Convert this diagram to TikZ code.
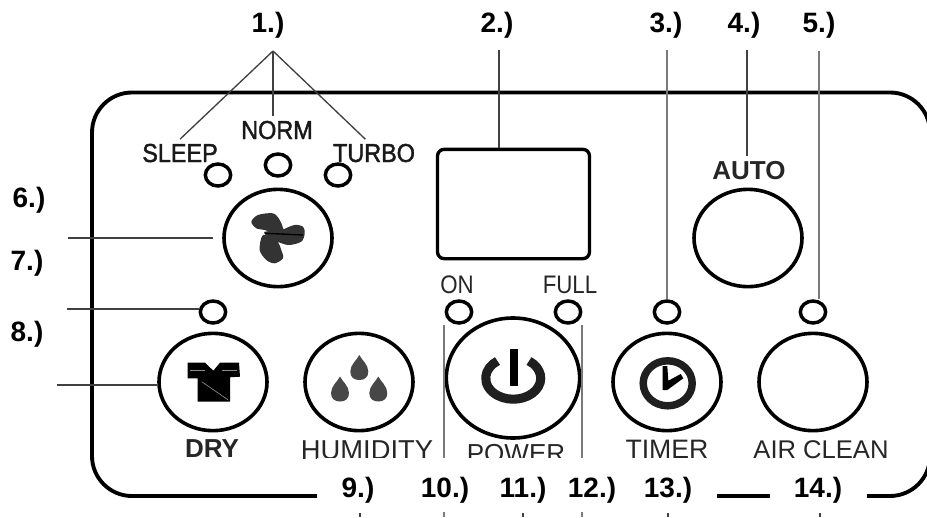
\documentclass[tikz,border=0pt]{standalone}
\usepackage{fontspec}
\setmainfont{Liberation Sans}
\newfontfamily\narrowfont[FakeStretch=0.88]{Liberation Sans}
\newfontfamily\heavyfont[FakeStretch=0.9,FakeBold=1.6]{Liberation Sans}
\usetikzlibrary{shapes}

\tikzset{
  numlabel/.style={anchor=base,inner sep=0.75pt,font=\fontsize{21}{24}\selectfont\bfseries},
  paneltext/.style={anchor=base,inner sep=3.3pt,text=black!85,font=\fontsize{19.5}{24}\selectfont},
  tagtext/.style={anchor=base,inner sep=3.3pt,text=black!85,font=\fontsize{19}{24}\narrowfont},
  heavytext/.style={anchor=base,inner sep=3.3pt,text=black!90,font=\fontsize{19.5}{24}\heavyfont},
  roundbtn/.style={draw,ellipse,line width=2.7pt,minimum width=81pt,minimum height=73pt,inner sep=0pt},
  ledlamp/.style={draw,ellipse,line width=2.6pt,minimum width=19pt,minimum height=16.5pt,inner sep=0pt},
  leader/.style={color=black!75,line width=1pt},
  leaderpale/.style={color=black!52,line width=1.5pt},
}

\begin{document}
\begin{tikzpicture}[x=0.75pt,y=0.75pt,yscale=-1,xscale=1]
\clip (0,0) rectangle (927,517);

%Shape: Panel outline
\draw [line width=2.9pt,rounded corners=30pt] (92,92.5) rectangle (930,496);

%Shape: Display
\node (screen) [draw,line width=2.5pt,rounded corners=5pt,minimum width=114pt,minimum height=82pt,inner sep=0pt] at (513.5,204) {};

%Shape: Buttons
\node (btnFan) [roundbtn] at (278,238) {};
\node (btnAuto) [roundbtn] at (748,238) {};
\node (btnDry) [roundbtn] at (213,382) {};
\node (btnHumid) [roundbtn] at (359,382) {};
\node (btnPower) [roundbtn,minimum width=100pt,minimum height=90pt] at (513,378) {};
\node (btnTimer) [roundbtn] at (667,382) {};
\node (btnClean) [roundbtn] at (813,382) {};

%Shape: Lamps
\node (ledSleep) [ledlamp] at (218,175) {};
\node (ledNorm) [ledlamp] at (278,165) {};
\node (ledTurbo) [ledlamp] at (338,175) {};
\node (ledDry) [ledlamp] at (213,312) {};
\node (ledOn) [ledlamp] at (459,312) {};
\node (ledFull) [ledlamp] at (568,312) {};
\node (ledTimer) [ledlamp] at (667,312) {};
\node (ledClean) [ledlamp] at (813,312) {};

%Shape: Fan
\fill [black!80] plot [smooth cycle] coordinates {(251.3,221.7) (258,215) (273,213.3) (279.7,220) (283,230) (275,233.3) (264.7,230) (256.3,228.3)};
\fill [black!80] plot [smooth cycle] coordinates {(283,230) (294.7,225) (303,226.7) (304.7,233.3) (301.3,241.7) (288,245) (276.3,240)};
\fill [black!80] plot [smooth cycle] coordinates {(263,235) (276.3,240) (281.3,250) (283,258.3) (274.7,263.3) (266.3,260) (259.7,250)};
\fill [black!80] (264,232) -- (283,228) -- (290,240) -- (270,244) -- cycle;
\draw [black,line width=1pt] (264.7,233.3) -- (303,235);

%Shape: Shirt
\fill [black] (187.7,362.7) -- (205,362.7) -- (213.3,370.7) -- (220,362.7) -- (239,362.7) -- (240,376.7) -- (230,377.3) -- (230,401.7) -- (197.7,401.7) -- (197.7,378.3) -- (187.7,378.3) -- cycle;
\draw [black!45,line width=0.5pt] (201.7,381.7) -- (228.3,400);
\draw [black!45,line width=0.5pt] (190,370) -- (205,370) (222,370) -- (237,370);

%Shape: Drops
\foreach \dx/\dy in {359.3/367.5,340/389,378.3/389}
{
  \fill [shift={(\dx,\dy)},black!72] (0,-12.5) .. controls (2,-8) and (9,-3) .. (9,4) .. controls (9,10) and (5,12.5) .. (0,12.5) .. controls (-5,12.5) and (-9,10) .. (-9,4) .. controls (-9,-3) and (-2,-8) .. (0,-12.5) -- cycle;
}

%Shape: Power sign
\draw [black!88,line width=6.8pt] (529,361) arc [start angle=-55,end angle=235,x radius=27.5,y radius=21];
\fill [black] (510,349.3) rectangle (518.3,386);

%Shape: Clock
\draw [black!88,line width=5.6pt] (667.7,383.3) circle [x radius=24.5,y radius=22.5];
\fill [black] (662.7,366) -- (667.3,366) -- (668.3,380.7) -- (680.7,374) -- (683.3,378.3) -- (667.3,390) -- (662.7,390) -- cycle;

% Text Node
\node (txtSleep) [heavytext] at (180,162) {SLEEP};
\node (txtNorm) [heavytext,font=\fontsize{19.5}{24}\heavyfont] at (277,139) {NORM};
\node (txtTurbo) [heavytext] at (374,162) {TURBO};
\node (txtOn) [tagtext] at (457,293) {ON};
\node (txtFull) [tagtext] at (570,293) {FULL};
\node (txtAuto) [paneltext,font=\fontsize{19.5}{24}\selectfont\bfseries] at (749,179) {AUTO};
\node (txtDry) [paneltext,font=\fontsize{19.5}{24}\selectfont\bfseries] at (212,457) {DRY};
\node (txtHumid) [paneltext,font=\fontsize{20.5}{24}\selectfont] at (367,459) {HUMIDITY};
\node (txtPower) [paneltext,font=\fontsize{19.5}{24}\selectfont] at (516,462) {POWER};
\node (txtTimer) [paneltext,font=\fontsize{20}{24}\selectfont] at (667,458) {TIMER};
\node (txtClean) [paneltext,font=\fontsize{19.2}{24}\selectfont] at (821,458) {AIR CLEAN};

%Straight Lines
\coordinate (apexA) at (273,51);
\coordinate (topB) at (499,50);
\coordinate (topC) at (667,50);
\coordinate (topD) at (747,50);
\coordinate (topE) at (819,51);
\coordinate (endG) at (68,238);
\coordinate (endH) at (67,309);
\coordinate (endJ) at (57,385);
\coordinate (endK) at (444,517);
\coordinate (endM) at (582,517);
\coordinate (stubI) at (360,513);
\coordinate (stubII) at (360,517);
\coordinate (stubL) at (523,513);
\coordinate (stubLL) at (523,517);
\coordinate (stubN) at (668,513);
\coordinate (stubNN) at (668,517);
\coordinate (stubP) at (820,513);
\coordinate (stubPP) at (820,517);
\draw [leader] (apexA) -- (txtSleep.north);
\draw [leader] (apexA) -- (apexA |- txtNorm.north);
\draw [leader] (apexA) -- ([xshift=-6.5pt]txtTurbo.north);
\draw [leader] (topB) -- (topB |- screen.north);
\draw [leaderpale] (topC) -- (ledTimer.north);
\draw [leader] (topD) -- (topD |- txtAuto.north);
\draw [leaderpale] (topE) -- (topE |- ledClean.north);
\draw [leader,shorten >=7pt] (endG) -- (btnFan.west);
\draw [leader] (endH) -- (endH -| ledDry.west);
\draw [leader] (endJ) -- (endJ -| btnDry.west);
\draw [leaderpale] (endK |- ledOn.south) -- (endK);
\draw [leaderpale] (endM |- ledFull.south) -- (endM);
\draw [leader] (stubI) -- (stubII);
\draw [leader] (stubL) -- (stubLL);
\draw [leader] (stubN) -- (stubNN);
\draw [leader] (stubP) -- (stubPP);

%Shape: Label strips
\fill [white] (317,458) rectangle (717,512);
\fill [white] (770,475) rectangle (867,512);

% Text Node
\node (numA) [numlabel] at (268,33) {1.)};
\node (numB) [numlabel] at (497,33) {2.)};
\node (numC) [numlabel] at (666,33) {3.)};
\node (numD) [numlabel] at (744,33) {4.)};
\node (numE) [numlabel] at (819,33) {5.)};
\node (numF) [numlabel] at (29,207) {6.)};
\node (numG) [numlabel] at (27,270) {7.)};
\node (numH) [numlabel] at (27,341) {8.)};
\node (numI) [numlabel] at (358,497) {9.)};
\node (numK) [numlabel] at (445,497) {10.)};
\node (numL) [numlabel] at (523,497) {11.)};
\node (numM) [numlabel] at (592,497) {12.)};
\node (numN) [numlabel] at (668,497) {13.)};
\node (numP) [numlabel] at (818,497) {14.)};

\end{tikzpicture}
\end{document}
